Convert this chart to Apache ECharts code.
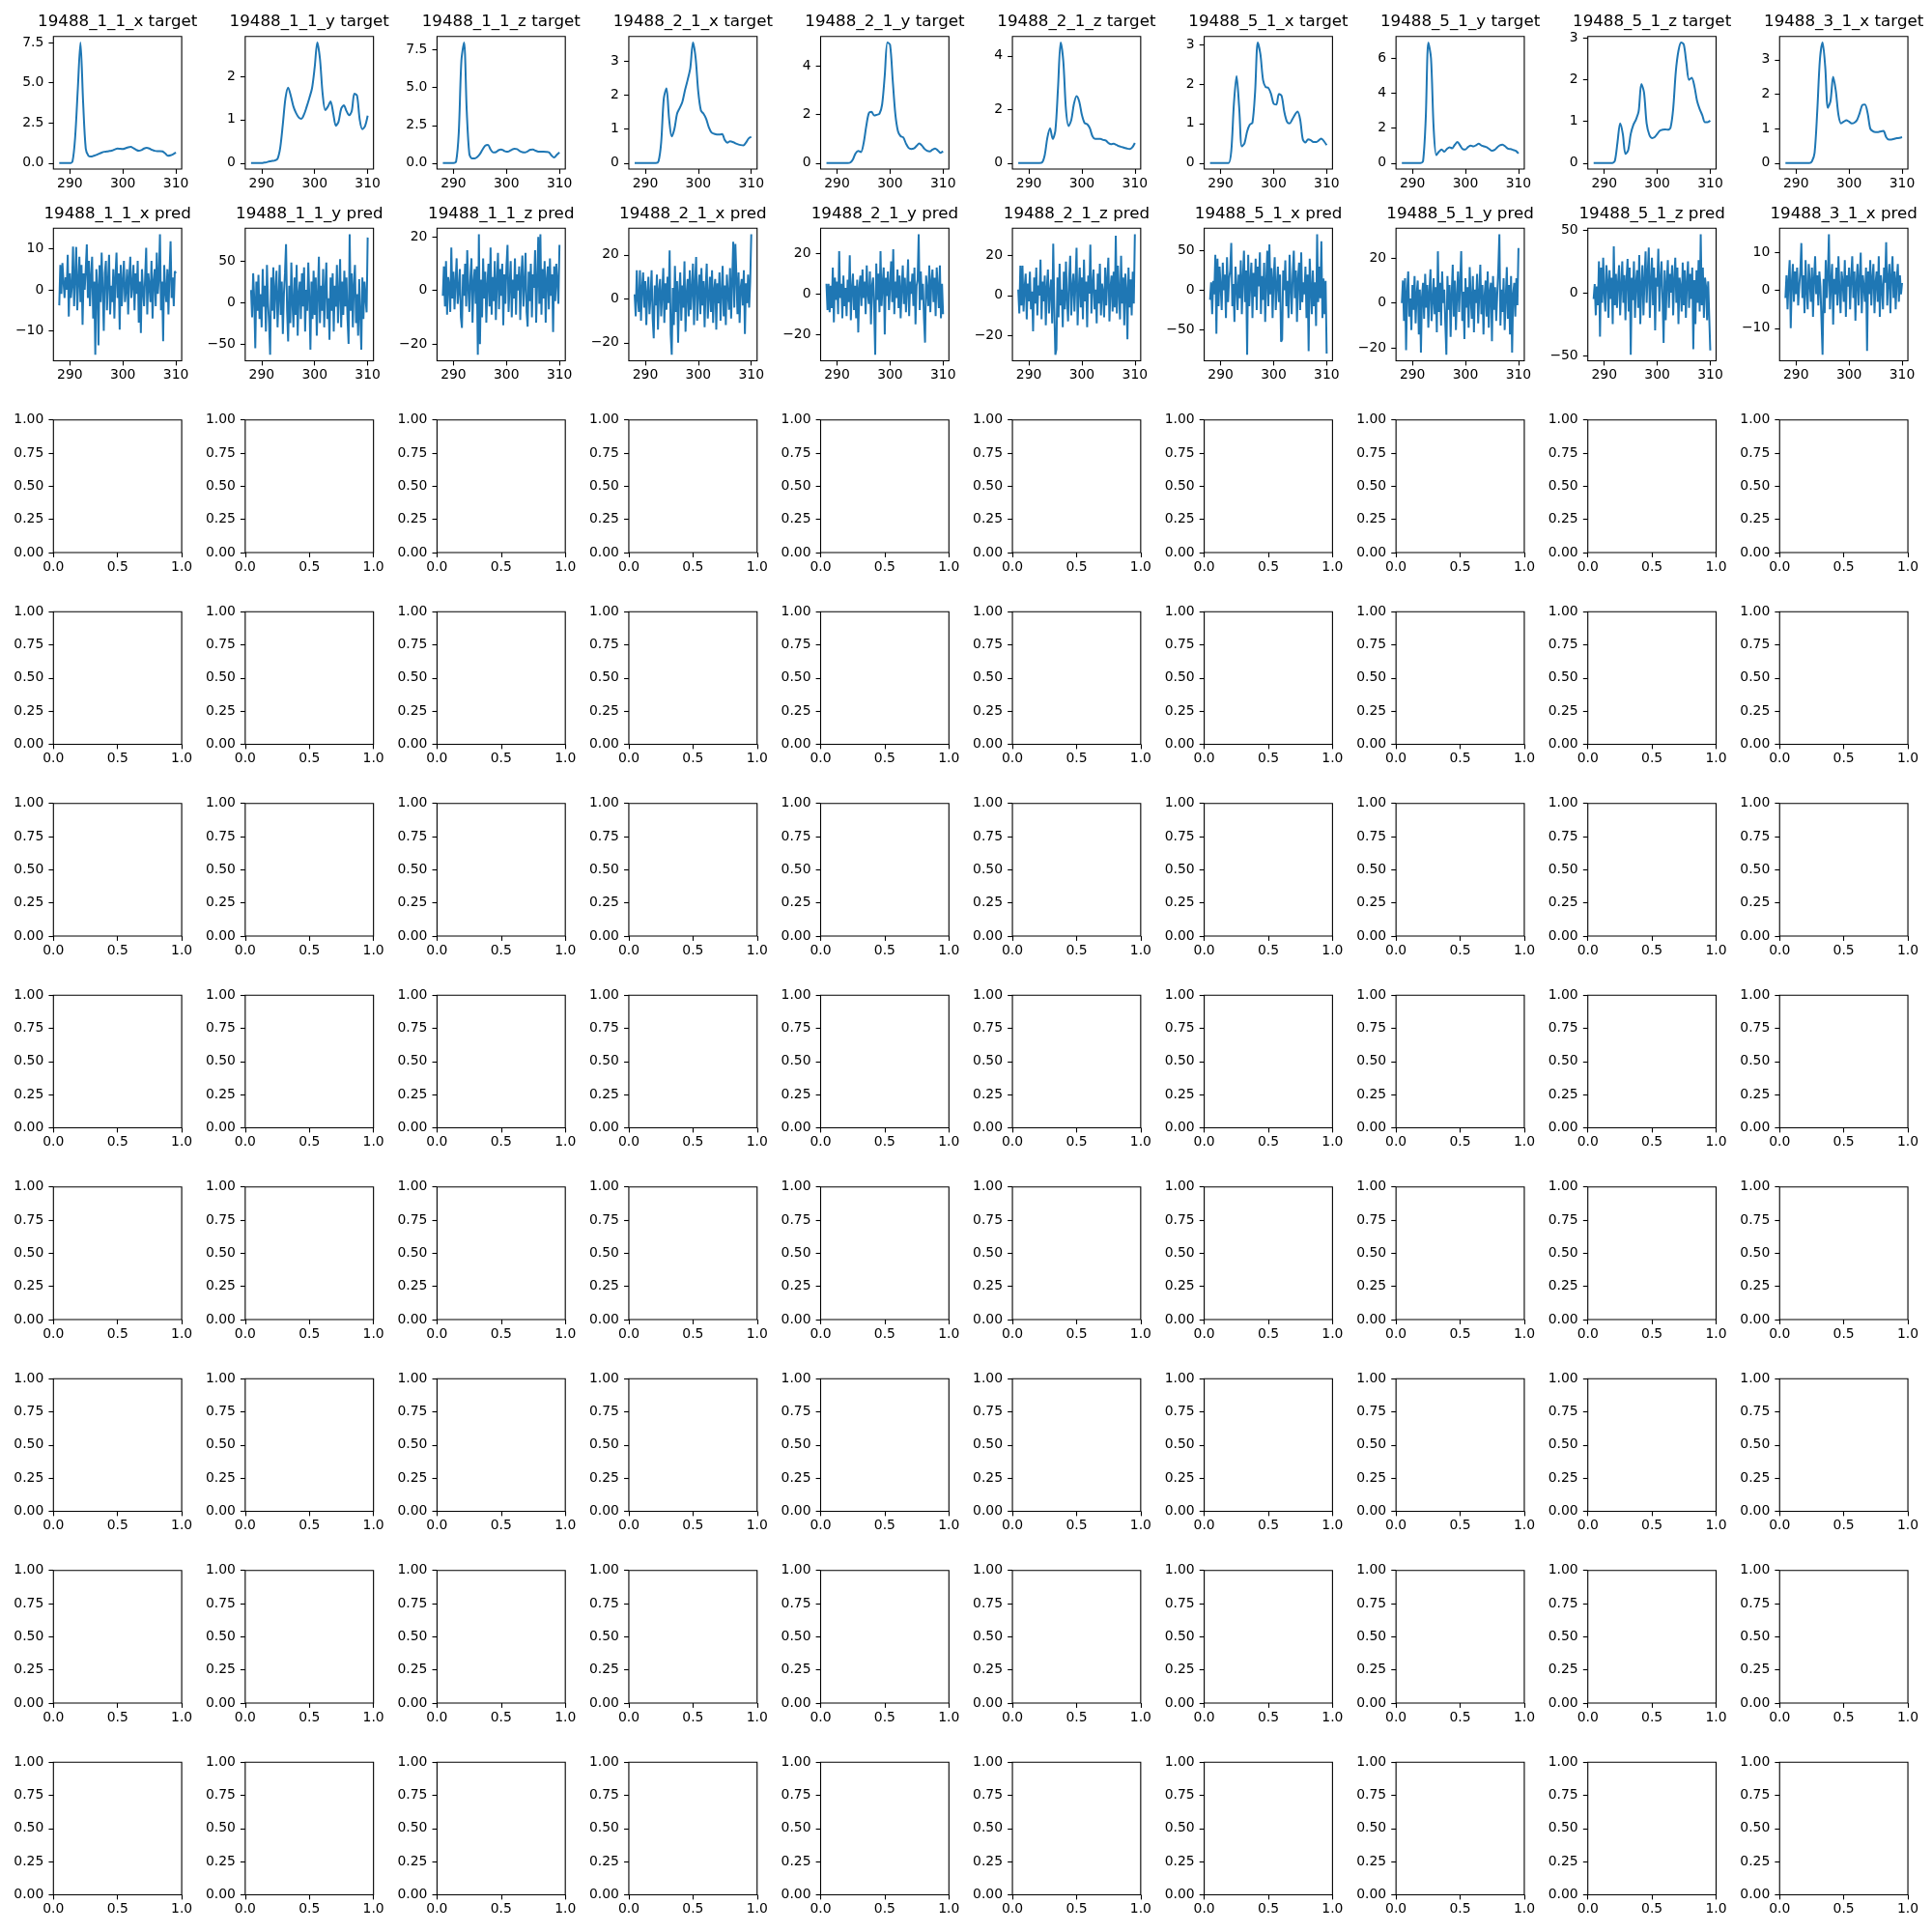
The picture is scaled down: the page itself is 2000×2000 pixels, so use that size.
<!DOCTYPE html>
<html>
<head>
<meta charset="utf-8">
<script src="https://cdn.jsdelivr.net/npm/echarts@6/dist/echarts.min.js"></script>
<style>html,body{margin:0;padding:0;background:#fff}#chart{width:2000px;height:2000px}</style>
</head>
<body>
<div id="chart"></div>
<script>
// ---------- DATA ----------
const panelIds = ['19488_1_1_x','19488_1_1_y','19488_1_1_z','19488_2_1_x','19488_2_1_y','19488_2_1_z','19488_5_1_x','19488_5_1_y','19488_5_1_z','19488_3_1_x'];

const targetX = [288,288.5,289,289.5,290,290.5,291,291.5,292,292.5,293,293.5,294,294.5,295,295.5,296,296.5,297,297.5,298,298.5,299,299.5,300,300.5,301,301.5,302,302.5,303,303.5,304,304.5,305,305.5,306,306.5,307,307.5,308,308.5,309,309.5,310];

const tgt_1_1_x = [0,0,0,0,0, 0.1,1.6,4.6,7.5,3.8, 0.9,0.45,0.4,0.45,0.5, 0.58,0.65,0.7,0.72,0.75, 0.78,0.85,0.9,0.88,0.87, 0.92,0.98,1.0,0.92,0.82, 0.76,0.8,0.9,0.94,0.9, 0.82,0.76,0.74,0.74,0.72, 0.6,0.45,0.48,0.55,0.65];
const tgt_1_1_y = [0,0,0,0,0, 0.01,0.02,0.04,0.05,0.06, 0.1,0.35,0.9,1.5,1.74, 1.55,1.3,1.15,1.05,1.02, 1.12,1.3,1.5,1.72,2.2, 2.78,2.4,1.6,1.22,1.3, 1.42,1.15,0.86,0.95,1.25, 1.33,1.2,1.1,1.2,1.6, 1.55,1.0,0.78,0.85,1.09];
const tgt_1_1_z = [0,0,0,0,0, 0.1,2.0,6.8,8.0,3.5, 0.6,0.3,0.3,0.4,0.6, 0.9,1.15,1.2,0.9,0.7, 0.72,0.85,0.9,0.82,0.75, 0.78,0.88,0.95,0.92,0.8, 0.72,0.7,0.78,0.88,0.89, 0.82,0.76,0.75,0.75,0.74, 0.72,0.5,0.37,0.55,0.71];
const tgt_2_1_x = [0,0,0,0,0, 0,0,0,0,0.05, 0.6,1.9,2.2,1.3,0.78, 1.0,1.45,1.62,1.8,2.15, 2.45,2.8,3.55,3.1,2.1, 1.55,1.45,1.3,1.05,0.9, 0.86,0.84,0.84,0.85,0.68, 0.6,0.64,0.62,0.58,0.55, 0.53,0.52,0.6,0.72,0.77];
const tgt_2_1_y = [0,0,0,0,0, 0,0,0,0,0.02, 0.15,0.4,0.5,0.45,0.8, 1.5,2.05,2.1,1.95,1.98, 2.02,2.4,3.6,4.95,4.85, 3.4,2.0,1.3,1.1,1.05, 0.8,0.62,0.58,0.6,0.7, 0.8,0.72,0.58,0.5,0.48, 0.55,0.6,0.52,0.42,0.48];
const tgt_2_1_z = [0,0,0,0,0, 0,0,0,0,0.02, 0.3,0.95,1.3,0.9,1.2, 2.8,4.5,3.8,2.0,1.38, 1.6,2.2,2.5,2.3,1.8, 1.5,1.45,1.3,1.0,0.9, 0.9,0.9,0.86,0.84,0.75, 0.7,0.72,0.68,0.63,0.6, 0.57,0.54,0.52,0.58,0.75];
const tgt_5_1_x = [0,0,0,0,0, 0,0,0,0.3,1.5, 2.2,1.4,0.42,0.5,0.8, 0.97,1.02,1.8,3.05,2.75, 2.1,1.92,1.9,1.75,1.5, 1.48,1.75,1.7,1.3,1.05, 1.0,1.1,1.22,1.3,1.1, 0.6,0.52,0.6,0.58,0.53, 0.53,0.57,0.62,0.55,0.45];
const tgt_5_1_y = [0,0,0,0,0, 0,0,0,0.1,2.5, 6.9,6.0,2.0,0.45,0.65, 0.78,0.65,0.8,0.9,0.85, 1.05,1.2,1.0,0.8,0.78, 0.92,1.0,0.95,1.02,1.1, 1.0,0.95,0.9,0.8,0.7, 0.75,0.9,1.02,1.05,0.95, 0.82,0.8,0.75,0.7,0.55];
const tgt_5_1_z = [0,0,0,0,0, 0,0,0,0.05,0.5, 0.95,0.7,0.22,0.3,0.7, 0.92,1.05,1.25,1.9,1.7, 0.95,0.68,0.6,0.62,0.7, 0.78,0.8,0.81,0.8,0.85, 1.3,2.2,2.7,2.9,2.85, 2.4,2.0,2.05,1.85,1.5, 1.3,1.15,0.98,0.98,1.02];
const tgt_3_1_x = [0,0,0,0,0, 0,0,0,0,0, 0.05,0.3,1.5,3.0,3.5, 2.8,1.6,1.8,2.5,2.1, 1.4,1.15,1.2,1.24,1.2, 1.15,1.17,1.25,1.45,1.68, 1.7,1.45,1.0,0.92,0.9, 0.9,0.92,0.93,0.75,0.68, 0.68,0.7,0.72,0.73,0.75];

const predStart = 288, predEnd = 310;
const pred_1_1_x = [-3.8,6,-1,6.5,2,-2,3,0,8.5,-6.5,4, -2,1,10.5,-4,3,10.4,-5,2,8,-3, 6,-8.5,4,0,5,11,-2,7,-4,3, 8,-7,2,-15.8,5,1,-13.5,6,-3,9, 0,-10,4,7,-5,2,8.5,-6,1,-3, 5,-7,3,9,-2,4,-9.7,6,-4,2, 7,-3,0,5,-6,3,8,-2,1,6, -5,4,-1,7,-8,2,-10.5,5,0,-4, 3,10.2,-6,4,1,-3,7,-7,2,5, -4,9,-1,3,13.5,-5,2,-12.5,6,0, -3,5,-6,4,11.8,-2,3,-4,4.5,4];
const pred_1_1_y = [15,-18,35,5,-55,25,-10,33,-20,10,-30, 40,-5,20,-35,45,0,-25,-63,30,-10, 42,-20,15,38,-30,5,45,-15,25,-38, 10,35,70,-10,-47,20,-25,48,0,-30, 30,-15,45,-40,10,25,-20,35,-5,42, -35,15,-10,48,5,-57,25,-20,38,-15, 30,-40,10,55,-25,20,-10,40,-30,15, 48,-20,5,-45,30,-10,35,-35,20,-5, 45,-25,10,52,-30,25,-15,38,-5,30, -20,-50,82,-10,35,-30,20,45,-25,10, -40,28,-15,-57,30,-20,25,5,-12,78];
const pred_1_1_z = [-2,9,-6,11,-9,5,2,-8,16,-3,7, -7,3,12,-5,0,8,-10,-14,6,-2, 10,-6,15,1,-8,5,12,-12,3,8, -5,9,-24,21,-20,4,-10,12,-3,7, -12,2,10,-6,16,-9,5,-4,11,-11, 3,14,-7,8,-2,10,-13,6,-5,9, 17,-8,2,11,-10,4,-3,12,-9,6, 0,9,-11,5,13,-6,2,14,-8,-13.5, 7,-4,10,-10,6,1,15,-12,3,20, -5,21,-9,8,-3,11,-12,4,9,-7, 12,-2,6,-15.5,9,-4,10,3,-5,17];
const pred_2_1_x = [2,-8,13,0,-6,13,-10,5,12,-4,8, -12,3,10,-7,1,13,-9,-18,6,-3, 11,-14,4,9,-8,2,14,-11,7,-5, 10,-2,22,-16,-25.5,5,-12,15,-6,8, -20,3,12,-10,6,-4,17,-15,2,9, -8,13,-5,4,16,-12,7,19,-10,3, 11,-7,14,-3,8,-13,5,16,-9,1, 10,-6,13,-11,4,9,-14,7,-2,12, -10,3,15,-8,6,-12,11,2,-5,14, -9,8,26,-4,25,10,-7,12,-11,5, 9,-3,13,-16,7,-2,11,-4,8,29.4];
const pred_2_1_y = [5,-8,5,-9,4,-7,13,-14,8,-3,6, -10,21,-2,5,-12,9,-6,3,-11,7, -4,19,-13,2,10,-8,4,-12,7,-19, 3,9,-6,12,-2,6,-10,14,0,-5, 11,-15,4,8,-7,-30,15,-3,10,-9, 21,-6,5,13,-20,8,-1,11,-8,4, 16,-4,22,-10,6,-2,12,-7,9,-12, 3,14,-5,8,-9,2,17,-11,6,0, 10,-6,13,-15,4,7,29.4,-8,11,-3, 5,-12,-24,9,2,-6,14,-9,6,12, -4,8,-11,13,3,-7,14,-12,5,-10];
const pred_2_1_z = [3,-9,15,-5,15,-8,4,11,-12,6,-3, 12,-7,2,-18,9,-4,14,-10,5,0, 18,-12,7,-3,10,-15,4,13,-9,2, 8,-14,26,-6,-29.8,-27,9,-11,16,-5, 3,-16,12,-7,17,-2,-13,8,20,-10, 4,11,-8,6,24,-15,2,14,-6,9, -12,18,-3,7,-16,10,1,25.5,-9,5, 13,-7,3,-14,11,-4,16,-10,6,2, -11,14,-5,8,19,-13,4,10,-8,12, -6,30,-9,15,2,-12,20,-4,9,-15, 11,3,-22,14,-6,8,-10,12,-4,30.8];
const pred_5_1_x = [-12,10,-30,12,-5,45,-55,40,-20,30,5, -25,35,0,20,-35,42,-15,15,25,60, -20,8,-40,30,5,-25,20,-10,38,-30, 15,50,-15,25,-81.5,45,-20,10,35,-35, 22,-8,40,-25,30,5,48,-30,18,-12, 35,-40,10,50,-20,58,-5,28,-35,15, 42,-25,5,30,-15,20,-65,-62,25,0, 38,-20,12,-35,45,5,-30,20,50,-10, 25,-40,15,35,-25,48,-15,10,-5,30, -35,20,-77,40,5,-30,25,-20,10,-45, 71,-15,30,-10,62,-35,15,-30,12,-80];
const pred_5_1_y = [0,10,-8,11,-21,5,14,-6,2,-12,8, -3,12,-9,4,10,-14,6,-22,3,9, -7,13,-2,8,-11,5,15,-8,1,11, -5,7,-13,23,-4,9,-10,14,0,6, -9,-23,12,-3,8,-15,4,17,-6,10, -12,3,14,-4,9,23,-8,5,-16,11, -2,7,-11,16,2,-7,12,-13,6,0, 13,-9,4,17,-5,8,-14,3,10,-6, 14,-11,5,9,-17,12,-3,7,-8,4, 15,30.6,-10,6,-4,11,-12,2,16,-7, 8,-14,12,-22,4,9,-6,11,-1,24.5];
const pred_5_1_z = [-5,7,-18,5,-10,25,-35,20,-8,28,0, -15,22,10,-20,18,-5,12,-25,37,-10, 15,-12,8,22,-18,5,25,-8,14,-22, 10,27,-15,20,-49.5,12,-6,25,-20,8, 18,-12,30,-25,5,22,-18,10,33,-8, 15,36,-20,8,28,-10,20,-30,12,5, 35,-15,10,25,-5,-40,18,-22,8,26, -12,15,0,22,-18,10,28,-8,20,-25, 12,5,-15,24,-10,18,-20,8,25,-12, 15,-5,20,-45,10,-25,18,-8,26,-15, 46.7,-10,20,-20,12,5,-22,9,8,-46];
const pred_3_1_x = [-2,4,-5,3,8,-10,2,7,-3,5,-1, 6,-4,1,5,12.5,-2,4,-6,8,0, -5,7,2,-3,6,-7,3,9,-1,4, -4,5,1,-8,-17,3,-6,8,-2,4, 14.85,-5,2,7,-9,3,-1,6,-4,9, 0,-6,5,2,-3,8,-7,4,1,6, -5,3,9,-2,5,-8,2,7,-4,3, 10,-6,4,1,-3,6,-16,5,-1,8, -4,3,7,-6,2,5,-3,9,-7,4, 1,-5,6,2,12.7,-4,3,7,-6,4, 9,-2,5,-5,3,7,-3,4,-1,2];

const targetSeries = [tgt_1_1_x,tgt_1_1_y,tgt_1_1_z,tgt_2_1_x,tgt_2_1_y,tgt_2_1_z,tgt_5_1_x,tgt_5_1_y,tgt_5_1_z,tgt_3_1_x];
const predSeries = [pred_1_1_x,pred_1_1_y,pred_1_1_z,pred_2_1_x,pred_2_1_y,pred_2_1_z,pred_5_1_x,pred_5_1_y,pred_5_1_z,pred_3_1_x];

// tick values and decimals
const timeTicks = [290,300,310];
const targetYTicks = [[0,2.5,5,7.5],[0,1,2],[0,2.5,5,7.5],[0,1,2,3],[0,2,4],[0,2,4],[0,1,2,3],[0,2,4,6],[0,1,2,3],[0,1,2,3]];
const targetYDecimals = [1,0,1,0,0,0,0,0,0,0];
const predYTicks = [[-10,0,10],[-50,0,50],[-20,0,20],[-20,0,20],[-20,0,20],[-20,0,20],[-50,0,50],[-20,0,20],[-50,0,50],[-10,0,10]];
const emptyXTicks = [0,0.5,1];
const emptyYTicks = [0,0.25,0.5,0.75,1];

// ---------- LAYOUT / STYLE ----------
const COL_LEFT0 = 55.3, COL_PITCH = 198.55, AX_W = 132.8;
const ROW_TOP0 = 37.7, ROW_PITCH = 198.5, AX_H = 137.3;
const FONT = 'DejaVu Sans';
const LINE_COLOR = '#1f77b4';

function fmt(v, d) {
  const s = Math.abs(v).toFixed(d);
  return (v < 0 && Number(s) !== 0 ? '\u2212' : '') + s;
}
function autoRange(vals) {
  let lo = Math.min(...vals), hi = Math.max(...vals);
  const pad = 0.05 * (hi - lo);
  return [lo - pad, hi + pad];
}
function axisCommon(ticks, dec, isY) {
  return {
    type: 'value',
    axisLine: { show: false, onZero: false },
    splitLine: { show: false },
    axisTick: { show: true, inside: false, length: 4.9, customValues: ticks, lineStyle: { color: '#000', width: 1.1 } },
    axisLabel: {
      show: true, customValues: ticks, margin: isY ? 10 : 8,
      color: '#000', fontFamily: FONT, fontSize: 13.9,
      formatter: (v) => fmt(v, dec)
    }
  };
}

const grids = [], xAxes = [], yAxes = [], series = [], titles = [];
const predXMin = predStart, predXMax = predEnd;
const xR = autoRange([predXMin, predXMax]);

for (let r = 0; r < 10; r++) {
  for (let c = 0; c < 10; c++) {
    const k = r * 10 + c;
    const left = COL_LEFT0 + COL_PITCH * c;
    const top = ROW_TOP0 + ROW_PITCH * r;
    grids.push({ left: left, top: top, width: AX_W, height: AX_H, show: true, borderColor: '#000', borderWidth: 1.1,
      backgroundColor: 'rgba(0,0,0,0)', containLabel: false, outerBoundsMode: 'none' });
    if (r < 2) {
      let xs, ys, yt, yd;
      if (r === 0) {
        xs = targetX; ys = targetSeries[c]; yt = targetYTicks[c]; yd = targetYDecimals[c];
      } else {
        ys = predSeries[c];
        const n = ys.length;
        xs = ys.map((_, i) => predXMin + (predXMax - predXMin) * i / (n - 1));
        yt = predYTicks[c]; yd = 0;
      }
      const yR = autoRange(ys);
      xAxes.push(Object.assign(axisCommon(timeTicks, 0, false), { gridIndex: k, min: xR[0], max: xR[1] }));
      yAxes.push(Object.assign(axisCommon(yt, yd, true), { gridIndex: k, min: yR[0], max: yR[1] }));
      series.push({
        type: 'line', xAxisIndex: k, yAxisIndex: k,
        data: xs.map((x, i) => [x, ys[i]]),
        symbol: 'none', showSymbol: false,
        smooth: r === 0 ? 0.3 : false,
        lineStyle: { color: LINE_COLOR, width: 2 },
        itemStyle: { color: LINE_COLOR },
        animation: false, silent: true, clip: true
      });
      titles.push({
        text: panelIds[c] + (r === 0 ? ' target' : ' pred'),
        left: left + AX_W / 2, top: top - 6.5,
        textAlign: 'center', textVerticalAlign: 'bottom', padding: 0,
        textStyle: { fontFamily: FONT, fontSize: 16.7, fontWeight: 'normal', color: '#000' }
      });
    } else {
      xAxes.push(Object.assign(axisCommon(emptyXTicks, 1, false), { gridIndex: k, min: 0, max: 1 }));
      yAxes.push(Object.assign(axisCommon(emptyYTicks, 2, true), { gridIndex: k, min: 0, max: 1 }));
    }
  }
}

const chart = echarts.init(document.getElementById('chart'), null, { renderer: 'canvas', width: 2000, height: 2000 });
chart.setOption({
  animation: false,
  backgroundColor: '#fff',
  title: titles,
  grid: grids,
  xAxis: xAxes,
  yAxis: yAxes,
  series: series
});
</script>
</body>
</html>
